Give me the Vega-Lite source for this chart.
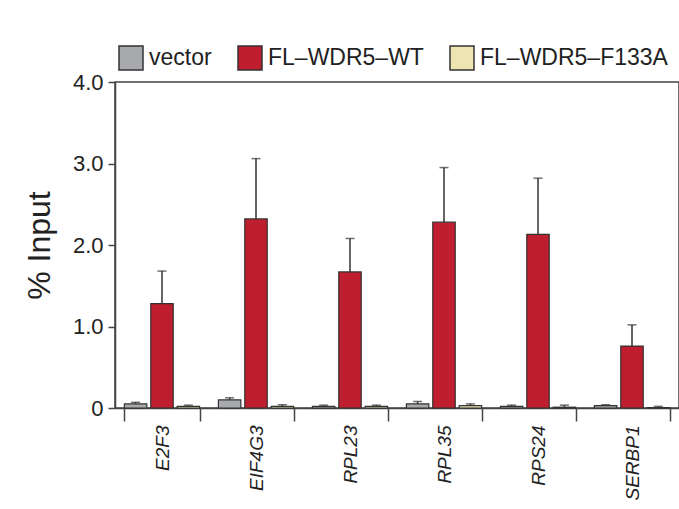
{
  "$schema": "https://vega.github.io/schema/vega-lite/v6.json",
  "width": 564,
  "height": 326,
  "autosize": {"type": "none"},
  "padding": {"left": 115, "top": 82, "right": 0, "bottom": 95},
  "background": "white",
  "config": {
    "font": "Liberation Sans",
    "view": {"stroke": "#444", "strokeWidth": 1.5},
    "axis": {"grid": false, "domainColor": "#444", "tickColor": "#444", "domainWidth": 1.5, "tickWidth": 1.5, "labelColor": "#222", "titleColor": "#222"}
  },
  "data": {
    "values": [
      {"gene": "E2F3", "group": "vector", "value": 0.05, "err": 0.07},
      {"gene": "E2F3", "group": "FL–WDR5–WT", "value": 1.28, "err": 1.68},
      {"gene": "E2F3", "group": "FL–WDR5–F133A", "value": 0.02, "err": 0.035},
      {"gene": "EIF4G3", "group": "vector", "value": 0.1, "err": 0.125},
      {"gene": "EIF4G3", "group": "FL–WDR5–WT", "value": 2.32, "err": 3.06},
      {"gene": "EIF4G3", "group": "FL–WDR5–F133A", "value": 0.02, "err": 0.04},
      {"gene": "RPL23", "group": "vector", "value": 0.02, "err": 0.035},
      {"gene": "RPL23", "group": "FL–WDR5–WT", "value": 1.67, "err": 2.08},
      {"gene": "RPL23", "group": "FL–WDR5–F133A", "value": 0.02, "err": 0.035},
      {"gene": "RPL35", "group": "vector", "value": 0.05, "err": 0.08},
      {"gene": "RPL35", "group": "FL–WDR5–WT", "value": 2.28, "err": 2.95},
      {"gene": "RPL35", "group": "FL–WDR5–F133A", "value": 0.03, "err": 0.05},
      {"gene": "RPS24", "group": "vector", "value": 0.02, "err": 0.035},
      {"gene": "RPS24", "group": "FL–WDR5–WT", "value": 2.13, "err": 2.82},
      {"gene": "RPS24", "group": "FL–WDR5–F133A", "value": 0.01, "err": 0.035},
      {"gene": "SERBP1", "group": "vector", "value": 0.03, "err": 0.04},
      {"gene": "SERBP1", "group": "FL–WDR5–WT", "value": 0.76, "err": 1.02},
      {"gene": "SERBP1", "group": "FL–WDR5–F133A", "value": 0.005, "err": 0.02}
    ]
  },
  "encoding": {
    "x": {
      "field": "gene", "type": "nominal", "sort": null,
      "scale": {"paddingInner": 0.2, "paddingOuter": 0.1},
      "axis": {"title": null, "labelAngle": -90, "labelFontSize": 19, "labelFontStyle": "italic", "tickBand": "extent", "tickSize": 13, "labelPadding": 4, "labelAlign": "right", "labelBaseline": "middle"}
    },
    "xOffset": {"field": "group", "type": "nominal", "sort": ["vector", "FL–WDR5–WT", "FL–WDR5–F133A"], "scale": {"paddingInner": 0.15}}
  },
  "layer": [
    {
      "mark": {"type": "rule", "color": "#333", "strokeWidth": 1.5},
      "encoding": {
        "y": {"field": "value", "type": "quantitative"},
        "y2": {"field": "err"}
      }
    },
    {
      "mark": {"type": "tick", "color": "#333", "thickness": 1.5, "size": 9, "orient": "horizontal"},
      "encoding": {
        "y": {"field": "err", "type": "quantitative"}
      }
    },
    {
      "mark": {"type": "bar", "stroke": "#333", "strokeWidth": 1.2},
      "encoding": {
        "y": {
          "field": "value", "type": "quantitative",
          "scale": {"domain": [0, 4], "nice": false},
          "axis": {"title": "% Input", "titleFontSize": 32, "titleFontWeight": "normal", "titlePadding": 16, "values": [0, 1, 2, 3, 4], "labelExpr": "datum.value == 0 ? '0' : format(datum.value, '.1f')", "labelFontSize": 22, "tickSize": 7, "labelPadding": 5}
        },
        "color": {
          "field": "group", "type": "nominal",
          "sort": ["vector", "FL–WDR5–WT", "FL–WDR5–F133A"],
          "scale": {"domain": ["vector", "FL–WDR5–WT", "FL–WDR5–F133A"], "range": ["#a7a9ac", "#be1e2d", "#ede4b2"]},
          "legend": {"title": null, "orient": "none", "legendX": 3, "legendY": -37, "direction": "horizontal", "symbolType": "square", "symbolSize": 576, "symbolStrokeColor": "#333", "symbolStrokeWidth": 1.5, "labelFontSize": 23, "labelColor": "#222", "labelOffset": 5, "columnPadding": 23, "symbolOpacity": 1, "labelLimit": 300}
        }
      }
    }
  ]
}
